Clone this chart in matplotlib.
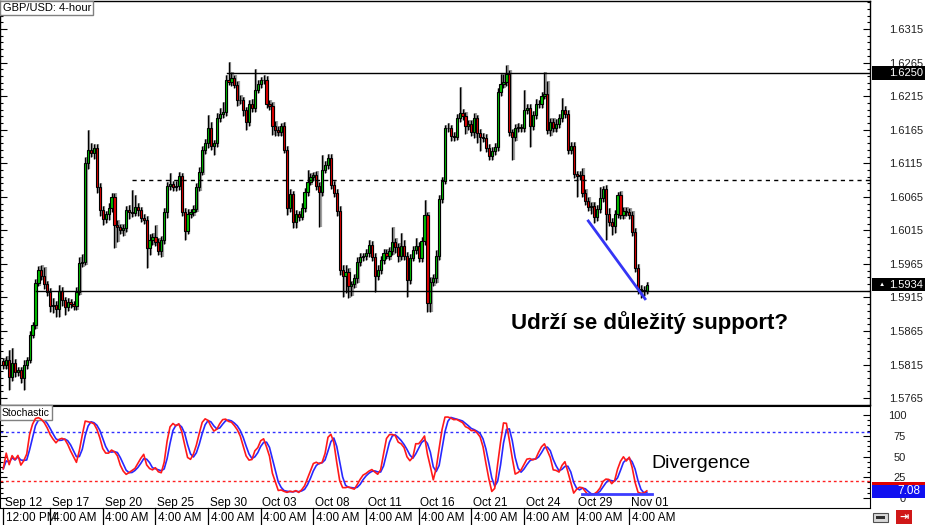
import numpy as np
import pandas as pd
import matplotlib.pyplot as plt
import matplotlib.transforms as mtransforms
from matplotlib.patches import Rectangle
from matplotlib.ticker import FixedLocator, FormatStrFormatter

plt.rcParams['font.family'] = ['Liberation Sans', 'DejaVu Sans']

# GBP/USD 4-hour candles, in pips above 1.5700
first_open = 120
close_pips = [
    114, 122, 96, 117, 104, 107, 95, 114, 122, 159,
    174, 237, 256, 247, 235, 223, 202, 204, 198, 225,
    211, 201, 208, 205, 202, 223, 266, 268, 415, 435,
    430, 438, 380, 345, 332, 339, 348, 365, 323, 320,
    315, 318, 345, 342, 341, 350, 345, 333, 330, 289,
    301, 305, 298, 284, 301, 342, 381, 384, 380, 381,
    396, 342, 314, 339, 342, 347, 380, 402, 435, 445,
    467, 441, 445, 482, 488, 491, 539, 536, 542, 532,
    509, 509, 494, 476, 503, 497, 524, 533, 539, 539,
    503, 500, 470, 464, 461, 470, 435, 348, 369, 327,
    339, 335, 348, 372, 387, 394, 397, 381, 372, 405,
    412, 423, 383, 371, 344, 256, 247, 253, 232, 235,
    244, 268, 275, 277, 281, 293, 275, 247, 256, 271,
    281, 277, 284, 298, 290, 277, 292, 277, 241, 274,
    286, 292, 274, 299, 338, 207, 238, 244, 277, 362,
    389, 467, 467, 456, 454, 482, 490, 485, 470, 473,
    461, 482, 460, 454, 453, 438, 426, 433, 439, 521,
    533, 536, 548, 461, 454, 467, 469, 467, 494, 497,
    470, 487, 503, 503, 515, 518, 464, 476, 467, 473,
    482, 494, 488, 435, 441, 399, 396, 397, 371, 359,
    350, 351, 335, 347, 363, 377, 339, 327, 321, 339,
    368, 338, 344, 342, 338, 313, 259, 228, 226, 225, 234,
]
# wick lengths (pips) above / below the candle body
wick_up = [
    5, 6, 15, 23, 6, 5, 4, 8, 5, 6,
    4, 5, 6, 8, 13, 5, 6, 10, 6, 8,
    6, 5, 6, 4, 5, 8, 10, 12, 9, 29,
    10, 5, 6, 5, 6, 5, 8, 6, 5, 8,
    5, 6, 6, 8, 33, 18, 6, 5, 6, 6,
    8, 6, 18, 5, 6, 6, 6, 16, 5, 8,
    6, 5, 6, 8, 5, 6, 6, 8, 6, 6,
    20, 10, 5, 8, 10, 15, 7, 27, 9, 5,
    6, 8, 5, 5, 6, 8, 31, 6, 5, 8,
    6, 6, 6, 8, 6, 5, 6, 5, 8, 5,
    6, 5, 8, 6, 18, 6, 5, 6, 6, 22,
    6, 6, 6, 5, 6, 8, 8, 10, 6, 5,
    6, 8, 6, 5, 6, 8, 6, 6, 8, 6,
    6, 6, 6, 22, 5, 6, 19, 8, 6, 6,
    6, 11, 6, 6, 22, 5, 8, 6, 8, 6,
    6, 5, 8, 5, 6, 6, 39, 6, 6, 6,
    6, 8, 5, 6, 6, 5, 6, 6, 6, 6,
    15, 12, 13, 6, 5, 6, 6, 5, 30, 6,
    6, 6, 8, 6, 6, 33, 20, 6, 6, 8,
    6, 18, 6, 6, 6, 6, 5, 6, 11, 6,
    6, 6, 6, 6, 17, 4, 6, 10, 6, 6,
    4, 6, 6, 6, 6, 6, 5, 6, 5, 6, 4,
]
wick_dn = [
    6, 5, 19, 5, 8, 6, 8, 18, 5, 4,
    5, 6, 5, 6, 8, 6, 8, 10, 12, 12,
    8, 12, 6, 5, 6, 6, 5, 6, 4, 8,
    6, 8, 10, 8, 9, 6, 8, 6, 34, 22,
    6, 8, 5, 10, 6, 5, 8, 6, 6, 30,
    10, 8, 6, 6, 8, 6, 8, 6, 6, 6,
    6, 6, 13, 5, 6, 5, 5, 6, 5, 6,
    8, 6, 13, 6, 5, 5, 6, 5, 6, 5,
    8, 6, 8, 11, 6, 6, 5, 5, 6, 6,
    6, 6, 13, 8, 6, 6, 5, 10, 6, 9,
    8, 6, 5, 6, 6, 5, 5, 6, 52, 6,
    5, 6, 6, 6, 8, 8, 31, 26, 18, 15,
    6, 8, 6, 5, 6, 6, 6, 24, 6, 6,
    6, 5, 6, 6, 8, 9, 6, 6, 25, 6,
    5, 6, 6, 6, 6, 14, 14, 6, 8, 6,
    6, 5, 6, 8, 6, 5, 6, 6, 12, 6,
    6, 8, 15, 21, 6, 6, 6, 6, 6, 6,
    6, 6, 6, 6, 34, 6, 5, 6, 6, 6,
    31, 6, 6, 6, 6, 5, 6, 8, 6, 6,
    6, 6, 6, 6, 6, 6, 31, 6, 6, 6,
    6, 10, 9, 6, 6, 6, 38, 6, 13, 10,
    6, 6, 6, 6, 6, 6, 6, 8, 12, 8, 5,
]

date_labels = ['Sep 12', 'Sep 17', 'Sep 20', 'Sep 25', 'Sep 30', 'Oct 03', 'Oct 08',
               'Oct 11', 'Oct 16', 'Oct 21', 'Oct 24', 'Oct 29', 'Nov 01']
date_bars = [0, 16, 34, 52, 70, 88, 106, 124, 142, 160, 178, 196, 214]
time_labels = ['12:00 PM'] + ['4:00 AM'] * 12

resistance = 1.6250
mid_level = 1.6090
support = 1.5925
last_bid = 1.5934
stoch_last = 7.08

# candles
close = 1.57 + np.array(close_pips) / 10000
opn = 1.57 + np.array([first_open] + close_pips[:-1]) / 10000
top = np.maximum(opn, close)
bot = np.minimum(opn, close)
high = top + np.array(wick_up) / 10000
low = bot - np.array(wick_dn) / 10000
idx = np.arange(len(close))

# stochastic 14,3,3
hh = pd.Series(high).rolling(14, min_periods=1).max()
ll = pd.Series(low).rolling(14, min_periods=1).min()
cl = pd.Series(close)
k_main = (cl - ll).rolling(3, min_periods=1).sum() / (hh - ll).rolling(3, min_periods=1).sum() * 100
d_sig = k_main.rolling(3, min_periods=1).mean()

W, H = 925, 525
fig = plt.figure(figsize=(9.25, 5.25), dpi=100)
ax = fig.add_axes([0, 120 / H, 870 / W, 404 / H])
ax2 = fig.add_axes([0, 17 / H, 870 / W, 102 / H])
xlim = (-1.13, 296.3)

up_c = '#00c000'
dn_c = '#e00000'

# grey shadow, wicks, bodies
ax.vlines(idx + 0.45, low, high, color='#a0a0a0', lw=1.6, zorder=1)
ax.vlines(idx, low, high, color='black', lw=1.0, zorder=2)
colors = np.where(close >= opn, up_c, dn_c)
body = np.maximum(top - bot, 0.00003)
ax.bar(idx, body, bottom=bot, width=0.75, color=colors, edgecolor='black', lw=0.8, zorder=3)

# horizontal levels
ax.plot([76.5, xlim[1]], [resistance, resistance], color='black', lw=1.0, zorder=4)
ax.plot([44, xlim[1]], [mid_level, mid_level], color='black', lw=1.0, ls=(0, (3, 3)), zorder=4)
ax.plot([11.2, xlim[1]], [support, support], color='black', lw=1.0, zorder=4)

# divergence trend line on price
ax.plot([200, 219.4], [1.6029, 1.5913], color='#3535f5', lw=2, zorder=5)

ax.text(173.6, 1.5877, 'Udrží se důležitý support?', fontsize=16, fontweight='bold',
        ha='left', va='center', color='black')

ax.set_xlim(*xlim)
ax.set_ylim(1.57548, 1.63567)
ax.set_xticks([])
ax.yaxis.set_major_locator(FixedLocator(np.arange(1.5765, 1.6356, 0.005)))
ax.yaxis.set_minor_locator(FixedLocator(np.arange(1.5755, 1.6356, 0.001)))
ax.yaxis.set_major_formatter(FormatStrFormatter('%.4f'))
ax.tick_params(axis='y', which='both', direction='in', left=True, right=True,
               labelleft=False, labelright=True, width=0.8, color='black')
ax.tick_params(axis='y', which='major', length=5, pad=13.5, labelsize=8, labelcolor='#202020')
ax.tick_params(axis='y', which='minor', length=2.5)
for s in ax.spines.values():
    s.set_linewidth(1.0)

ax.text(0.003, 0.995, 'GBP/USD: 4-hour', transform=ax.transAxes, fontsize=8,
        ha='left', va='top',
        bbox=dict(boxstyle='square,pad=0.2', facecolor='white', edgecolor='#808080', lw=1))

# price boxes on the right scale
tr = mtransforms.blended_transform_factory(fig.transFigure, ax.transData)
fig.add_artist(Rectangle((872 / W, resistance - 0.00104), 53 / W, 0.00208,
                         transform=tr, facecolor='black', edgecolor='none'))
fig.add_artist(plt.Text(889 / W, resistance, '%.4f' % resistance, transform=tr,
                        color='white', fontsize=8, va='center', ha='left'))
fig.add_artist(Rectangle((872 / W, last_bid - 0.00097), 53 / W, 0.00194,
                         transform=tr, facecolor='black', edgecolor='none'))
fig.add_artist(plt.Text(889 / W, last_bid, '%.4f' % last_bid, transform=tr,
                        color='white', fontsize=8, va='center', ha='left'))
fig.add_artist(plt.Text(882 / W, last_bid + 0.0001, '▲', transform=tr,
                        color='white', fontsize=4.5, va='center', ha='center'))

# stochastic pane
ax2.plot(idx, d_sig, color='#2828ff', lw=1.2, zorder=3)
ax2.plot(idx, k_main, color='#ff1a1a', lw=1.2, zorder=4)
ax2.axhline(80, color='#3030ff', lw=1.0, ls=(0, (2, 2)))
ax2.axhline(20, color='#ff2020', lw=1.0, ls=(0, (2, 2)))
ax2.plot([197.7, 221.7], [4.8, 4.8], color='#3c3cff', lw=2, zorder=5)
ax2.text(221.4, 41, 'Divergence', fontsize=14, ha='left', va='center')
ax2.set_xlim(*xlim)
ax2.set_ylim(-12, 110.8)
ax2.set_xticks([])
ax2.yaxis.set_major_locator(FixedLocator([0, 25, 50, 75, 100]))
ax2.yaxis.set_minor_locator(FixedLocator(np.arange(0, 106, 6.25)))
ax2.tick_params(axis='y', which='both', direction='in', left=True, right=True,
                labelleft=False, labelright=True, width=0.8)
ax2.tick_params(axis='y', which='major', length=5, pad=26, labelsize=8, labelcolor='#202020')
ax2.tick_params(axis='y', which='minor', length=2.5)
for t in ax2.get_yticklabels():
    t.set_horizontalalignment('right')

ax2.text(0.002, 0.985, 'Stochastic', transform=ax2.transAxes, fontsize=7.5,
         ha='left', va='top',
         bbox=dict(boxstyle='square,pad=0.2', facecolor='white', edgecolor='#808080', lw=1))

tr2 = mtransforms.blended_transform_factory(fig.transFigure, ax2.transData)
fig.add_artist(Rectangle((872 / W, 3.6), 53 / W, 15.7, transform=tr2,
                         facecolor='#e00000', edgecolor='none'))
fig.add_artist(Rectangle((872 / W, 0), 53 / W, 15.7, transform=tr2,
                         facecolor='#1010f0', edgecolor='none'))
fig.add_artist(plt.Text(920 / W, 8.3, '%.2f' % stoch_last, transform=tr2,
                        color='white', fontsize=8.5, va='center', ha='right'))

# date and time labels
trx = mtransforms.blended_transform_factory(ax2.transData, ax2.transAxes)
for b, d, t in zip(date_bars, date_labels, time_labels):
    ax2.text(b + 0.6, -6.3, d, fontsize=8.5, ha='left', va='center', color='black')
    ax2.plot([b, b], [0, -0.17], transform=trx, color='black', lw=0.9, clip_on=False)
    ax2.annotate(t, xy=(b, 0), xycoords=trx, xytext=(1.8, -7.4),
                 textcoords='offset points', fontsize=8.5, ha='left', va='center',
                 annotation_clip=False)

# little toolbar icons bottom right
fig.add_artist(Rectangle((873 / W, 3 / H), 15 / W, 9 / H, transform=fig.transFigure,
                         facecolor='#d8d8d8', edgecolor='#505050', lw=0.8))
fig.add_artist(Rectangle((876 / W, 6 / H), 9 / W, 3 / H, transform=fig.transFigure,
                         facecolor='#303030', edgecolor='none'))
fig.add_artist(Rectangle((896 / W, 1 / H), 16 / W, 14 / H, transform=fig.transFigure,
                         facecolor='#d01818', edgecolor='none'))
fig.text(904 / W, 8 / H, '⇥', color='white', fontsize=8, ha='center', va='center',
         fontweight='bold')

fig.savefig('out.png', dpi=100)
